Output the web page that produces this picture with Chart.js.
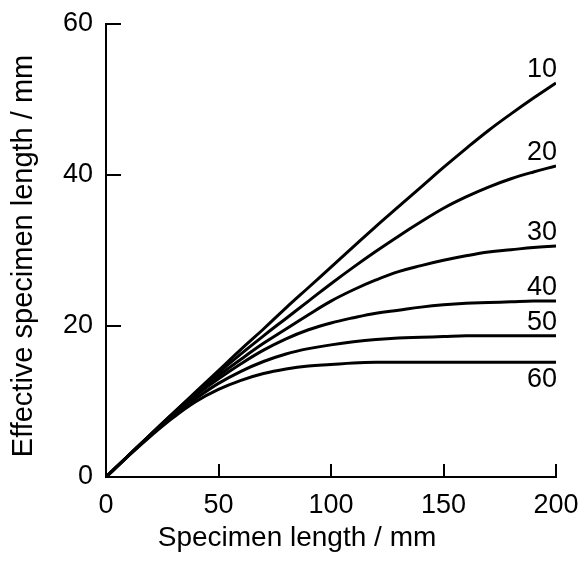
<!DOCTYPE html>
<html>
<head>
<meta charset="utf-8">
<script src="https://cdn.jsdelivr.net/npm/chart.js@4/dist/chart.umd.min.js"></script>
<style>
  html, body { margin: 0; padding: 0; background: #fff; }
</style>
</head>
<body>
<canvas id="lengthChart" width="582" height="561"></canvas>
<script>
// specimen length (mm) on the x axis
var specimenLength = [0, 10, 20, 30, 40, 50, 60, 70, 80, 90, 100, 110, 120, 130, 140, 150, 160, 170, 180, 190, 200];

// effective specimen length (mm), one list per curve
var curveLabels = ['10', '20', '30', '40', '50', '60'];
var eff10 = [0, 2.85, 5.7, 8.5, 11.3, 14.1, 16.9, 19.6, 22.4, 25.1, 27.8, 30.5, 33.2, 35.8, 38.4, 41.0, 43.5, 45.9, 48.1, 50.2, 52.2];
var eff20 = [0, 2.85, 5.7, 8.5, 11.2, 13.8, 16.3, 18.7, 21.0, 23.3, 25.6, 27.8, 29.9, 31.9, 33.8, 35.6, 37.1, 38.4, 39.5, 40.4, 41.2];
var eff30 = [0, 2.85, 5.65, 8.4, 11.0, 13.4, 15.6, 17.7, 19.6, 21.5, 23.3, 24.8, 26.1, 27.2, 28.0, 28.7, 29.3, 29.8, 30.1, 30.4, 30.6];
var eff40 = [0, 2.85, 5.6, 8.3, 10.8, 13.0, 15.0, 16.8, 18.3, 19.5, 20.4, 21.1, 21.7, 22.1, 22.5, 22.8, 23.0, 23.1, 23.2, 23.3, 23.3];
var eff50 = [0, 2.85, 5.55, 8.1, 10.4, 12.4, 14.0, 15.3, 16.3, 17.0, 17.5, 17.9, 18.2, 18.4, 18.5, 18.6, 18.7, 18.7, 18.7, 18.7, 18.7];
var eff60 = [0, 2.8, 5.45, 7.9, 10.0, 11.6, 12.8, 13.7, 14.3, 14.7, 14.9, 15.1, 15.2, 15.2, 15.2, 15.2, 15.2, 15.2, 15.2, 15.2, 15.2];

var xTicks = [0, 50, 100, 150, 200];
var yTicks = [0, 20, 40, 60];
var xTitle = 'Specimen length / mm';
var yTitle = 'Effective specimen length / mm';

var fontFamily = "'Liberation Sans', Arial, Helvetica, sans-serif";

function toPoints(values) {
    return values.map(function(v, i) { return { x: specimenLength[i], y: v }; });
}

var allCurves = [eff10, eff20, eff30, eff40, eff50, eff60];
var datasets = allCurves.map(function(values, i) {
    return {
        label: curveLabels[i],
        data: toPoints(values),
        borderColor: '#000',
        borderWidth: 3,
        pointRadius: 0,
        fill: false,
        tension: 0.4
    };
});

// tick marks point inward, into the plot; axis titles drawn here too
var inwardTicks = {
    id: 'inwardTicks',
    afterDraw: function(chart) {
        var ctx = chart.ctx;
        var xs = chart.scales.x, ys = chart.scales.y;
        var area = chart.chartArea;
        ctx.save();
        ctx.strokeStyle = '#000';
        ctx.lineWidth = 2;
        ctx.beginPath();
        yTicks.forEach(function(v) {
            var py = Math.round(ys.getPixelForValue(v));
            ctx.moveTo(area.left, py);
            ctx.lineTo(area.left + 15, py);
        });
        xTicks.forEach(function(v) {
            var px = Math.round(xs.getPixelForValue(v));
            ctx.moveTo(px, area.bottom);
            ctx.lineTo(px, area.bottom - 13);
        });
        ctx.stroke();

        ctx.fillStyle = '#000';
        ctx.textAlign = 'center';
        ctx.textBaseline = 'alphabetic';
        ctx.font = '28px ' + fontFamily;
        ctx.fillText(xTitle, 297, 546);

        ctx.translate(32, 256);
        ctx.rotate(-Math.PI / 2);
        ctx.font = '29px ' + fontFamily;
        ctx.fillText(yTitle, 0, 0);
        ctx.restore();
    }
};

// curve names written at the right end of each curve
var endLabels = {
    id: 'endLabels',
    afterDatasetsDraw: function(chart) {
        var ctx = chart.ctx;
        ctx.save();
        ctx.fillStyle = '#000';
        ctx.font = '27px ' + fontFamily;
        ctx.textAlign = 'right';
        ctx.textBaseline = 'alphabetic';
        chart.data.datasets.forEach(function(ds, i) {
            var meta = chart.getDatasetMeta(i);
            var last = meta.data[meta.data.length - 1];
            var below = i === chart.data.datasets.length - 1;
            var y = below ? last.y + 25 : last.y - 6;
            ctx.fillText(ds.label, chart.chartArea.right + 1, y);
        });
        ctx.restore();
    }
};

var ctx1 = document.getElementById('lengthChart').getContext('2d');
var lengthChart = new Chart(ctx1, {
    type: 'line',
    data: { datasets: datasets },
    options: {
        responsive: false,
        animation: false,
        devicePixelRatio: 1,
        layout: {
            padding: { top: 24, right: 26, left: 0, bottom: 0 }
        },
        plugins: {
            legend: { display: false },
            tooltip: { enabled: false }
        },
        scales: {
            x: {
                type: 'linear',
                min: 0,
                max: 200,
                afterFit: function(scale) {
                    scale.height = 84;
                    scale.paddingLeft = 0;
                    scale.paddingRight = 0;
                },
                afterBuildTicks: function(scale) {
                    scale.ticks = xTicks.map(function(v) { return { value: v }; });
                },
                grid: { display: true, drawOnChartArea: false, drawTicks: false },
                border: { display: true, color: '#000', width: 2 },
                ticks: {
                    color: '#000',
                    padding: 12,
                    maxRotation: 0,
                    font: { family: fontFamily, size: 27 }
                }
            },
            y: {
                type: 'linear',
                min: 0,
                max: 60,
                afterFit: function(scale) {
                    scale.width = 106;
                    scale.paddingTop = 0;
                    scale.paddingBottom = 0;
                },
                afterBuildTicks: function(scale) {
                    scale.ticks = yTicks.map(function(v) { return { value: v }; });
                },
                grid: { display: true, drawOnChartArea: false, drawTicks: false },
                border: { display: true, color: '#000', width: 2 },
                ticks: {
                    color: '#000',
                    padding: 13,
                    font: { family: fontFamily, size: 27 }
                }
            }
        }
    },
    plugins: [inwardTicks, endLabels]
});
</script>
</body>
</html>
